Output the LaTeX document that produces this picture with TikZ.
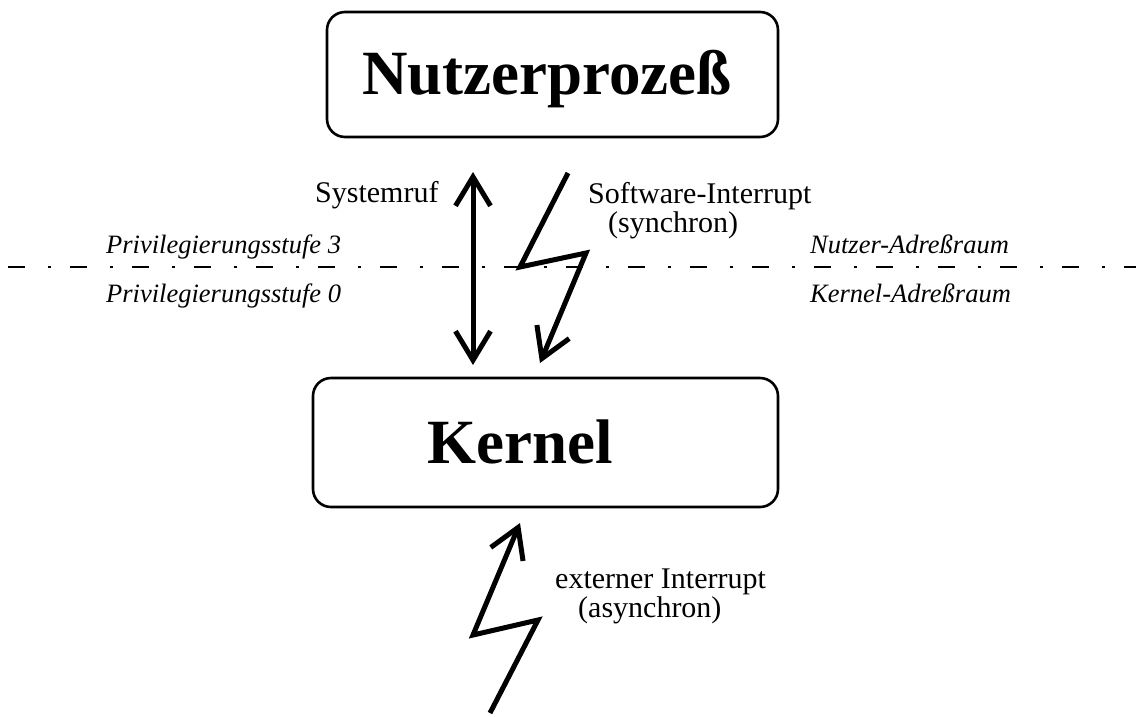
\documentclass[tikz,border=0pt]{standalone}
\usepackage{fontspec}
\setmainfont{Liberation Serif}
\usetikzlibrary{arrows.meta}
\begin{document}
\begin{tikzpicture}[x=1pt,y=-1pt,
  box/.style={draw, line width=2.6pt, rounded corners=18pt, inner sep=0pt},
  title/.style={font=\fontsize{63}{70}\selectfont\bfseries, anchor=base west, inner sep=0pt},
  lbl/.style={font=\fontsize{30}{34}\selectfont, anchor=base west, inner sep=0pt},
  ital/.style={font=\fontsize{26.5}{30}\selectfont\itshape, anchor=base west, inner sep=0pt},
  tipbarb/.tip={Straight Barb[length=29pt,width=35pt]},
  bolt/.style={line width=5pt, line join=miter, -tipbarb},
  dbl/.style={line width=5pt, tipbarb-tipbarb},
  sepline/.style={line width=1.2pt, dash pattern=on 17pt off 23pt on 3pt off 19pt}
]
\useasboundingbox (0,0) rectangle (1136,716);

% boxes
\node[box, minimum width=451pt, minimum height=125pt] (user) at (552.5,74.5) {};
\node[box, minimum width=465pt, minimum height=129pt] (kernel) at (545.5,442.5) {};
\node[title] (usertxt) at (362,94) {Nutzerprozeß};
\node[title] (kerneltxt) at (427,463) {Kernel};

% separator
\coordinate (sepL) at (8,267);
\coordinate (sepR) at (1136,267);
\draw[sepline] (sepL) -- (sepR);

% labels
\node[ital] (p3) at (106,253) {Privilegierungsstufe 3};
\node[ital] (p0) at (106,302) {Privilegierungsstufe 0};
\node[ital] (nar) at (810,253) {Nutzer-Adreßraum};
\node[ital] (kar) at (810,302) {Kernel-Adreßraum};

\node[lbl] (sysruf) at (315,202) {Systemruf};
\node[lbl] (swint) at (588,203) {Software-Interrupt};
\node[lbl] (sync) at (608,232) {(synchron)};
\node[lbl] (extint) at (555,588) {externer Interrupt};
\node[lbl] (async) at (578,617) {(asynchron)};

% system call double arrow
\coordinate (sysTop) at (473,172);
\coordinate (sysBot) at (473,365);
\draw[dbl] (sysTop) -- (sysBot);

% software interrupt bolt
\coordinate (sw1) at (568,173);
\coordinate (sw2) at (520,267);
\coordinate (sw3) at (586,253);
\coordinate (sw4) at (540,363);
\draw[bolt] (sw1) -- (sw2) -- (sw3) -- (sw4);

% external interrupt bolt
\coordinate (ex1) at (490,713);
\coordinate (ex2) at (538,620);
\coordinate (ex3) at (473,635);
\coordinate (ex4) at (520,523);
\draw[bolt] (ex1) -- (ex2) -- (ex3) -- (ex4);
\end{tikzpicture}
\end{document}
